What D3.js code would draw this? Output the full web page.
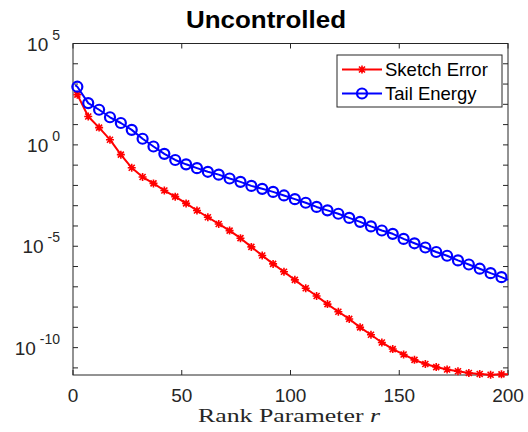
<!DOCTYPE html>
<html>
<head>
<meta charset="utf-8">
<script src="https://cdn.jsdelivr.net/npm/d3@7"></script>
<style>
  body { margin: 0; background: #fff; }
  svg { display: block; }
</style>
</head>
<body>
<script>
// rank values (first and last points carry no marker)
var rank = [1, 2, 7, 12, 17, 22, 27, 32, 37, 42, 47, 52, 57, 62, 67, 72, 77, 82, 87, 92, 97,
  102, 107, 112, 117, 122, 127, 132, 137, 142, 147, 152, 157, 162, 167, 172, 177, 182, 187, 192, 197, 200];

var sketchError = [4.3e2, 3.0e2, 2.5e1, 7.1, 1.8, 3.3e-1, 7.4e-2, 2.6e-2, 1.26e-2, 5.6e-3, 2.8e-3,
  1.3e-3, 5.8e-4, 2.7e-4, 1.26e-4, 5.9e-5, 2.5e-5, 9.3e-6, 3.5e-6, 1.35e-6, 5.5e-7,
  2.2e-7, 8.5e-8, 3.5e-8, 1.4e-8, 5.9e-9, 2.6e-9, 1.0e-9, 4.3e-10, 1.8e-10, 8.5e-11,
  4.6e-11, 2.5e-11, 1.55e-11, 1.1e-11, 8.3e-12, 6.8e-12, 5.6e-12, 5.0e-12, 4.6e-12, 4.8e-12, 4.9e-12];

var tailEnergy = [8.9e2, 7.4e2, 1.15e2, 5.4e1, 2.3e1, 1.2e1, 5.5, 2.0, 8.3e-1, 3.6e-1, 1.8e-1,
  1.1e-1, 7.1e-2, 4.7e-2, 3.4e-2, 2.2e-2, 1.5e-2, 9.5e-3, 6.8e-3, 4.8e-3, 3.2e-3,
  2.1e-3, 1.4e-3, 8.7e-4, 5.9e-4, 4.0e-4, 2.5e-4, 1.6e-4, 9.5e-5, 6.0e-5, 4.1e-5,
  2.3e-5, 1.4e-5, 8.7e-6, 5.2e-6, 3.4e-6, 2.0e-6, 1.26e-6, 7.8e-7, 4.7e-7, 3.0e-7, 2.2e-7];

var xTicks = [0, 50, 100, 150, 200];
var yTickExps = [5, 0, -5, -10];
var yMinorExps = [5, 4, 3, 2, 1, 0, -1, -2, -3, -4, -5, -6, -7, -8, -9, -10, -11];
var seriesNames = ["Sketch Error", "Tail Energy"];
var seriesColors = ["#ff0000", "#0000ff"];

var width = 528, height = 432;
var plot = { left: 73, right: 508, top: 43.5, bottom: 375 };
var axisColor = "#262626";
var sans = "'Liberation Sans', Arial, Helvetica, sans-serif";

var svg = d3.select("body").append("svg").attr("width", width).attr("height", height);

var x = d3.scaleLinear().domain([0, 200]).range([plot.left, plot.right]);
var y = d3.scaleLog().domain([Math.pow(10, -11.35), 1e5]).range([plot.bottom, plot.top]);

// title
svg.append("text").attr("x", 266).attr("y", 28).attr("text-anchor", "middle")
  .attr("font-family", sans).attr("font-weight", "bold").attr("font-size", "24px")
  .attr("textLength", 160).attr("lengthAdjust", "spacingAndGlyphs")
  .attr("fill", "#000").text("Uncontrolled");

// axes box + ticks
var axisG = svg.append("g");
axisG.append("rect").attr("x", plot.left).attr("y", plot.top)
  .attr("width", plot.right - plot.left).attr("height", plot.bottom - plot.top)
  .attr("fill", "none").attr("stroke", axisColor).attr("stroke-width", 1);

var tickLen = 5;
xTicks.forEach(function(t) {
  axisG.append("line").attr("x1", x(t)).attr("x2", x(t)).attr("y1", plot.bottom).attr("y2", plot.bottom - tickLen)
    .attr("stroke", axisColor);
  axisG.append("line").attr("x1", x(t)).attr("x2", x(t)).attr("y1", plot.top).attr("y2", plot.top + tickLen)
    .attr("stroke", axisColor);
  axisG.append("text").attr("x", x(t)).attr("y", 401.5).attr("text-anchor", "middle")
    .attr("font-family", sans).attr("font-size", "19px").attr("fill", axisColor).text(t);
});

yMinorExps.forEach(function(e) {
  var yy = y(Math.pow(10, e));
  axisG.append("line").attr("x1", plot.left).attr("x2", plot.left + tickLen).attr("y1", yy).attr("y2", yy)
    .attr("stroke", axisColor);
  axisG.append("line").attr("x1", plot.right).attr("x2", plot.right - tickLen).attr("y1", yy).attr("y2", yy)
    .attr("stroke", axisColor);
});

yTickExps.forEach(function(e) {
  var yy = y(Math.pow(10, e));
  var t = axisG.append("text").attr("x", 60).attr("y", yy + 7).attr("text-anchor", "end")
    .attr("font-family", sans).attr("font-size", "19px").attr("fill", axisColor);
  t.append("tspan").text("10");
  t.append("tspan").attr("dx", 4).attr("dy", -11).attr("font-size", "14px").text(e);
});

// x label
var xl = svg.append("text").attr("x", 289).attr("y", 422).attr("text-anchor", "middle")
  .attr("font-family", "'Liberation Serif', 'DejaVu Serif', serif").attr("font-size", "19px")
  .attr("textLength", 182).attr("lengthAdjust", "spacingAndGlyphs")
  .attr("fill", axisColor);
xl.append("tspan").text("Rank Parameter ");
xl.append("tspan").attr("font-style", "italic").text("r");

// series
var series = [sketchError, tailEnergy].map(function(vals, s) {
  return { name: seriesNames[s], color: seriesColors[s], pts: rank.map(function(r, i) { return { r: r, v: vals[i], i: i }; }) };
});

var line = d3.line().x(function(d) { return x(d.r); }).y(function(d) { return y(d.v); });

function drawStar(g, cx, cy, color) {
  var a = 4;
  var p = "M" + (cx - a) + "," + cy + "L" + (cx + a) + "," + cy +
    "M" + cx + "," + (cy - a) + "L" + cx + "," + (cy + a) +
    "M" + (cx - a * 0.75) + "," + (cy - a * 0.75) + "L" + (cx + a * 0.75) + "," + (cy + a * 0.75) +
    "M" + (cx - a * 0.75) + "," + (cy + a * 0.75) + "L" + (cx + a * 0.75) + "," + (cy - a * 0.75);
  g.append("path").attr("d", p).attr("stroke", color).attr("stroke-width", 1.6).attr("fill", "none");
}
function drawCircle(g, cx, cy, color) {
  g.append("circle").attr("cx", cx).attr("cy", cy).attr("r", 5)
    .attr("stroke", color).attr("stroke-width", 2.2).attr("fill", "none");
}

series.forEach(function(s, si) {
  var g = svg.append("g");
  g.append("path").datum(s.pts).attr("d", line).attr("fill", "none")
    .attr("stroke", s.color).attr("stroke-width", 2).attr("stroke-linejoin", "round");
  s.pts.filter(function(d) { return d.i > 0 && d.i < rank.length - 1; }).forEach(function(d) {
    if (si === 0) drawStar(g, x(d.r), y(d.v), s.color);
    else drawCircle(g, x(d.r), y(d.v), s.color);
  });
});

// legend
var lg = svg.append("g");
lg.append("rect").attr("x", 337).attr("y", 55).attr("width", 165).attr("height", 52)
  .attr("fill", "#fff").attr("stroke", axisColor).attr("stroke-width", 1);
series.forEach(function(s, si) {
  var cy = 69.5 + si * 24;
  lg.append("line").attr("x1", 342).attr("x2", 382).attr("y1", cy).attr("y2", cy)
    .attr("stroke", s.color).attr("stroke-width", 2);
  if (si === 0) drawStar(lg, 362, cy, s.color);
  else drawCircle(lg, 362, cy, s.color);
  lg.append("text").attr("x", 385).attr("y", cy + 6.5).attr("font-family", sans)
    .attr("font-size", "18.5px").attr("fill", "#000").text(s.name);
});
</script>
</body>
</html>
